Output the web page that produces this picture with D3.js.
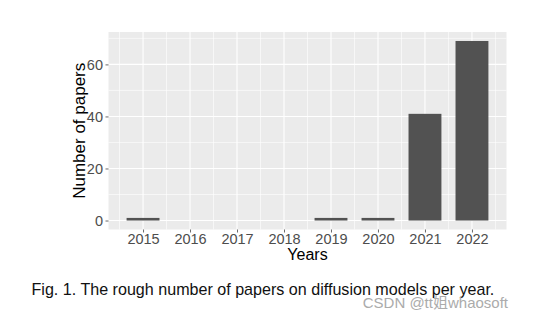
<!DOCTYPE html>
<html>
<head>
<meta charset="utf-8">
<script src="https://cdn.jsdelivr.net/npm/d3@7"></script>
<style>
html,body{margin:0;padding:0;background:#fff;}
svg{display:block;font-family:"Liberation Sans",Arial,sans-serif;}
</style>
</head>
<body>
<svg id="chart" width="556" height="322"></svg>
<script>
const years = [2015, 2016, 2017, 2018, 2019, 2020, 2021, 2022];
const papers = [1, 0, 0, 0, 1, 1, 41, 69];
const yTicks = [0, 20, 40, 60];
const yMinor = [10, 30, 50, 70];
const xMinor = [2014.5, 2015.5, 2016.5, 2017.5, 2018.5, 2019.5, 2020.5, 2021.5, 2022.5];
const xTitle = "Years";
const yTitle = "Number of papers";
const caption = "Fig. 1. The rough number of papers on diffusion models per year.";
const watermark = "CSDN @tt姐whaosoft";

const svg = d3.select("#chart");
const panel = {left: 108.5, right: 506.5, top: 32, bottom: 229.5};
const barW = 0.7;
const font = "'Liberation Sans',Arial,sans-serif";

const x = d3.scaleLinear().domain([2014.265, 2022.735]).range([panel.left, panel.right]);
const y = d3.scaleLinear().domain([-3.45, 72.45]).range([panel.bottom, panel.top]);

svg.append("rect")
  .attr("x", panel.left).attr("y", panel.top)
  .attr("width", panel.right - panel.left).attr("height", panel.bottom - panel.top)
  .attr("fill", "#ebebeb");

const g = svg.append("g");
g.selectAll(".ymin").data(yMinor).join("line")
  .attr("x1", panel.left).attr("x2", panel.right)
  .attr("y1", d => y(d)).attr("y2", d => y(d))
  .attr("stroke", "#fff").attr("stroke-width", 0.6);
g.selectAll(".xmin").data(xMinor).join("line")
  .attr("y1", panel.top).attr("y2", panel.bottom)
  .attr("x1", d => x(d)).attr("x2", d => x(d))
  .attr("stroke", "#fff").attr("stroke-width", 0.6);
g.selectAll(".ymaj").data(yTicks).join("line")
  .attr("x1", panel.left).attr("x2", panel.right)
  .attr("y1", d => y(d)).attr("y2", d => y(d))
  .attr("stroke", "#fff").attr("stroke-width", 1.1);
g.selectAll(".xmaj").data(years).join("line")
  .attr("y1", panel.top).attr("y2", panel.bottom)
  .attr("x1", d => x(d)).attr("x2", d => x(d))
  .attr("stroke", "#fff").attr("stroke-width", 1.1);

svg.selectAll(".bar").data(years.map((yr, i) => ({yr, v: papers[i]})).filter(d => d.v > 0)).join("rect")
  .attr("x", d => x(d.yr - barW / 2))
  .attr("width", d => x(d.yr + barW / 2) - x(d.yr - barW / 2))
  .attr("y", d => y(d.v))
  .attr("height", d => y(0) - y(d.v))
  .attr("fill", "#525252");

const yAxis = d3.axisLeft(y).tickValues(yTicks).tickSize(3).tickPadding(2.5);
const ya = svg.append("g").attr("transform", `translate(${panel.left},0)`).call(yAxis);
ya.select(".domain").remove();
ya.selectAll(".tick line").attr("stroke", "#444").attr("stroke-width", 0.8);
ya.selectAll(".tick text").attr("fill", "#4d4d4d").style("font-size", "14.5px").style("font-family", font);

const xAxis = d3.axisBottom(x).tickValues(years).tickFormat(d3.format("d")).tickSize(3).tickPadding(1);
const xa = svg.append("g").attr("transform", `translate(0,${panel.bottom})`).call(xAxis);
xa.select(".domain").remove();
xa.selectAll(".tick line").attr("stroke", "#444").attr("stroke-width", 0.8);
xa.selectAll(".tick text").attr("fill", "#4d4d4d").style("font-size", "14.5px").style("font-family", font);

svg.append("text").attr("x", (panel.left + panel.right) / 2).attr("y", 259.5)
  .attr("text-anchor", "middle").attr("fill", "#000").style("font-size", "16px").text(xTitle);
svg.append("text").attr("transform", `translate(84.5,${(panel.top + panel.bottom) / 2}) rotate(-90)`)
  .attr("text-anchor", "middle").attr("fill", "#000").style("font-size", "17px").text(yTitle);

svg.append("text").attr("x", 31.5).attr("y", 294.7).attr("fill", "#111").style("font-size", "16.1px").text(caption);
svg.append("text").attr("x", 508).attr("y", 308.3).attr("text-anchor", "end")
  .attr("fill", "#ababab").style("font-size", "15px")
  .style("font-family", "'Liberation Sans','Noto Sans CJK SC',sans-serif").text(watermark);
</script>
</body>
</html>
